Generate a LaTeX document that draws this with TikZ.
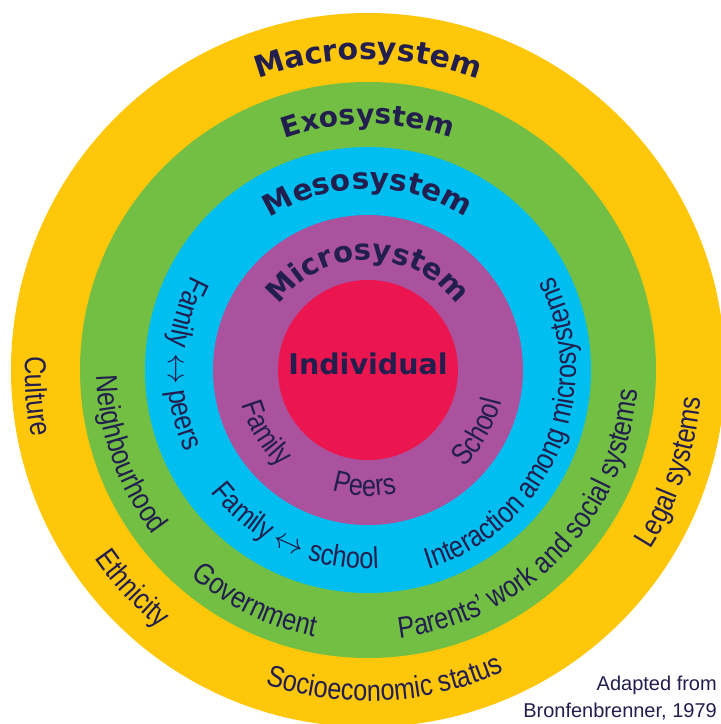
\documentclass[tikz,border=0pt]{standalone}
\usepackage{graphicx}
\usepackage{fontspec}
\usetikzlibrary{decorations.text}

\newfontfamily\headfam{DejaVu Sans}
\newfontfamily\ringfam{Liberation Sans}[FakeStretch=0.84]
\newfontfamily\notefam{Liberation Sans}

\definecolor{ink}{RGB}{34,30,78}
\definecolor{macroY}{RGB}{255,199,10}
\definecolor{exoG}{RGB}{114,191,68}
\definecolor{mesoB}{RGB}{0,190,240}
\definecolor{microP}{RGB}{170,82,158}
\definecolor{selfR}{RGB}{235,22,80}

% text formats
\newcommand\headtext[1]{\headfam\bfseries\fontsize{#1}{#1}\selectfont\color{ink}}
\newcommand\ringtext{\ringfam\fontsize{30pt}{30pt}\selectfont\color{ink}}
\newcommand\twoway{{\resizebox{31pt}{!}{$\leftrightarrow$}}}

% system name along a clockwise arc over the top, letters pointing outward
% #1 size, #2 baseline radius, #3 half span (deg), #4 text
\newcommand\topcaption[4]{%
  \path[decorate,decoration={text along path,text align=center,text={|\headtext{#1}|#4}}]
    ({90+#3}:#2) arc[start angle={90+#3}, end angle={90-#3}, radius=#2pt];}

% example label along a counterclockwise arc, letters pointing to the centre
% #1 baseline radius, #2 centre angle, #3 half span (deg), #4 text
\newcommand\ringcaption[4]{%
  \path[decorate,decoration={text along path,text align=center,text={|\ringtext|#4}}]
    ({#2-#3}:#1) arc[start angle={#2-#3}, end angle={#2+#3}, radius=#1pt];}

\begin{document}
\begin{tikzpicture}[x=1pt,y=1pt]
  \useasboundingbox (-368,-354) rectangle (353,370);
  \fill[white] (-368,-354) rectangle (353,370);

  % nested systems
  \begin{scope}
    \clip (-368,-354) rectangle (353,370);
    \fill[macroY] (0,0) circle[radius=357pt];
  \end{scope}
  \fill[exoG]   (0,0) circle[radius=288pt];
  \fill[mesoB]  (0,0) circle[radius=223pt];
  \fill[microP] (0,0) circle[radius=155pt];
  \fill[selfR]  (0,0) circle[radius=90pt];

  % system names
  \topcaption{30pt}{311}{40}{Macrosystem}
  \topcaption{28pt}{246}{45}{Exosystem}
  \topcaption{29.5pt}{181}{60}{Mesosystem}
  \topcaption{29pt}{110}{80}{Microsystem}
  \node[font={\headtext{28.5pt}}] (individual) at (0,6) {Individual};

  % macrosystem
  \ringcaption{343}{184.5}{40}{Culture}
  \ringcaption{332}{222.8}{40}{Ethnicity}
  \ringcaption{331}{273.1}{40}{Socioeconomic status}
  \ringcaption{334}{341.4}{40}{Legal systems}

  % exosystem
  \ringcaption{271}{199.3}{40}{Neighbourhood}
  \ringcaption{272}{244}{40}{Government}
  \ringcaption{270}{316.2}{60}{Parents’ work and social systems}

  % mesosystem
  \ringcaption{200}{178}{50}{Family \twoway{} peers}
  \ringcaption{199}{245.5}{50}{Family \twoway{} school}
  \ringcaption{208}{336.9}{70}{Interaction among microsystems}

  % microsystem
  \ringcaption{131}{211.6}{40}{Family}
  \ringcaption{126}{268.3}{40}{Peers}
  \ringcaption{137}{330.7}{40}{School}

  % source
  \node[anchor=base east, inner sep=0, text=ink,
        font=\notefam\fontsize{20pt}{24pt}\selectfont] (credit1) at (349,-320) {Adapted from};
  \node[anchor=base east, inner sep=0, text=ink,
        font=\notefam\fontsize{20pt}{24pt}\selectfont] (credit2) at (349,-347) {Bronfenbrenner, 1979};
\end{tikzpicture}
\end{document}
